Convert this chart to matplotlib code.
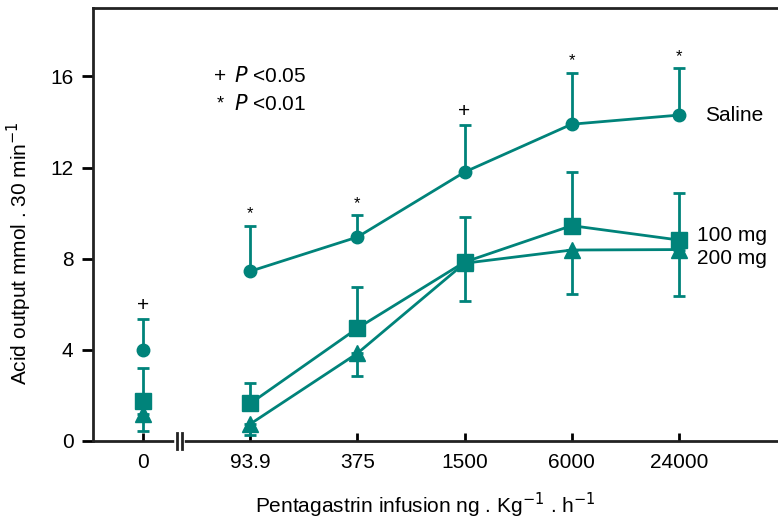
import matplotlib.pyplot as plt
from matplotlib.lines import Line2D

plt.rcParams['font.family'] = ['Liberation Sans', 'DejaVu Sans']

teal = '#00837a'

doses = ['0', '93.9', '375', '1500', '6000', '24000']
pos = [0, 1, 2, 3, 4, 5]

saline = [4.0, 7.45, 8.95, 11.8, 13.9, 14.3]
saline_hi = [5.35, 9.45, 9.9, 13.85, 16.15, 16.35]
mg100 = [1.75, 1.65, 4.95, 7.85, 9.45, 8.82]
mg100_hi = [3.2, 2.55, 6.75, 9.85, 11.8, 10.9]
mg200 = [1.2, 0.75, 3.85, 7.8, 8.38, 8.4]
mg200_lo = [0.45, 0.25, 2.85, 6.15, 6.45, 6.38]

sig_marks = ['+', '*', '*', '+', '*', '*']

fig = plt.figure(figsize=(7.78, 5.19), dpi=100)
ax = fig.add_axes([93 / 778, 1 - 441 / 519, 1 - 93 / 778 + 0.01, 433 / 519])

# error bars
ax.errorbar(pos, saline, yerr=[[0] * 6, [h - v for h, v in zip(saline_hi, saline)]],
            fmt='none', ecolor=teal, elinewidth=2, capsize=4, capthick=2, zorder=2)
ax.errorbar(pos, mg100, yerr=[[0] * 6, [h - v for h, v in zip(mg100_hi, mg100)]],
            fmt='none', ecolor=teal, elinewidth=2, capsize=4, capthick=2, zorder=2)
ax.errorbar(pos, mg200, yerr=[[v - l for v, l in zip(mg200, mg200_lo)], [0] * 6],
            fmt='none', ecolor=teal, elinewidth=2, capsize=4, capthick=2, zorder=2)

# lines start at 93.9, the basal point stands alone
ax.plot(pos[1:], saline[1:], color=teal, lw=2, zorder=3)
ax.plot(pos[1:], mg100[1:], color=teal, lw=2, zorder=3)
ax.plot(pos[1:], mg200[1:], color=teal, lw=2, zorder=3)
ax.plot(pos, saline, 'o', color=teal, ms=9, zorder=4)
ax.plot(pos, mg200, '^', color=teal, ms=11, zorder=4)
ax.plot(pos, mg100, 's', color=teal, ms=12, zorder=5)

for x, top, m in zip(pos, saline_hi, sig_marks):
    ax.text(x, top + 0.2, m, ha='center', va='bottom', fontsize=15 if m == '+' else 12)

ax.text(5.25, saline[-1], 'Saline', fontsize=15, va='center', ha='left')
ax.text(5.17, 9.0, '100 mg', fontsize=15, va='center', ha='left')
ax.text(5.17, 8.0, '200 mg', fontsize=15, va='center', ha='left')

ax.text(0.72, 16.0, '+', fontsize=15, ha='center', va='center')
ax.text(0.72, 14.8, '*', fontsize=13, ha='center', va='center')
ax.text(0.85, 16.0, r'$\it{P}$ <0.05', fontsize=15, va='center')
ax.text(0.85, 14.8, r'$\it{P}$ <0.01', fontsize=15, va='center')

ax.set_xlim(-0.47, 6.0)
ax.set_ylim(0, 19)
ax.set_xticks(pos)
ax.set_xticklabels(doses, fontsize=15)
ax.set_yticks([0, 4, 8, 12, 16])
ax.tick_params(axis='y', direction='out', length=8, width=2, labelsize=15, pad=6)
ax.tick_params(axis='x', direction='in', length=6, width=2, pad=9)
ax.spines['right'].set_visible(False)
for s in ['left', 'top', 'bottom']:
    ax.spines[s].set_linewidth(2)
    ax.spines[s].set_color('#222222')

# axis break
ax.add_line(Line2D([0.315, 0.36], [0, 0], color='white', lw=4, transform=ax.get_xaxis_transform(), clip_on=False, zorder=6))
for bx in [0.315, 0.36]:
    ax.add_line(Line2D([bx, bx], [-0.018, 0.018], color='#222222', lw=2,
                       transform=ax.get_xaxis_transform(), clip_on=False, zorder=7))

ax.set_xlabel('Pentagastrin infusion ng . Kg$^{-1}$ . h$^{-1}$', fontsize=15)
ax.set_ylabel('Acid output mmol . 30 min$^{-1}$', fontsize=15)
ax.xaxis.set_label_coords(0.479, -0.115)
ax.yaxis.set_label_coords(-0.085, 0.434)

fig.savefig('out.png', dpi=100)
